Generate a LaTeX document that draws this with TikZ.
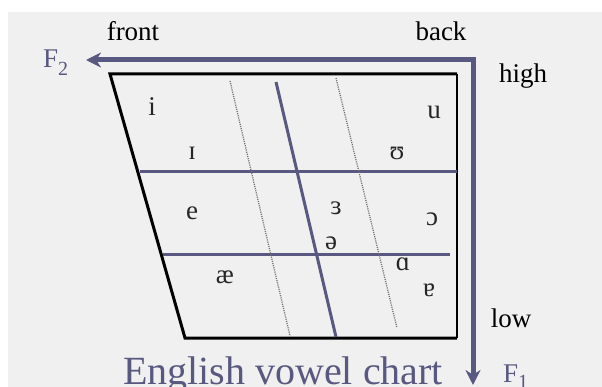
\documentclass[tikz,border=0pt]{standalone}
\usepackage{fontspec}
\setmainfont{Liberation Serif}
\usetikzlibrary{arrows.meta}
\definecolor{slate}{RGB}{88,88,128}
\definecolor{bg}{RGB}{240,240,240}
\tikzset{
  lbl/.style={font=\fontsize{27}{30}\selectfont, inner sep=0pt, text=black},
  vow/.style={font=\fontsize{27}{30}\selectfont, inner sep=0pt, text=black!85},
  frame/.style={draw=black, line width=3pt, line join=miter},
  grid/.style={draw=slate, line width=3pt},
  dots/.style={draw=black!55, line width=1.3pt, dash pattern=on 1.1pt off 1.1pt},
  axis/.style={draw=slate, line width=5pt, -{Stealth[length=15pt,width=15pt]}},
}
\begin{document}
\begin{tikzpicture}[x=1pt,y=-1pt]
\useasboundingbox (0,0) rectangle (602,387);
\fill[white] (0,0) rectangle (602,387);
\fill[bg] (8,12) rectangle (602,387);
% chart frame
\coordinate (tl) at (110,74);
\coordinate (tr) at (457,74);
\coordinate (br) at (457,338);
\coordinate (bl) at (185,338);
\draw[black, line width=1.2pt] (tr) -- (br);
\draw[frame] (br) -- (bl) -- (tl) -- (tr);
% grid lines
\coordinate (h1a) at (140,172); \coordinate (h1b) at (457,172);
\coordinate (h2a) at (163,255); \coordinate (h2b) at (450,255);
\draw[grid] (h1a) -- (h1b);
\draw[grid] (h2a) -- (h2b);
\coordinate (s1) at (276,82); \coordinate (s2) at (336,337);
\draw[grid] (s1) -- (s2);
\coordinate (d1a) at (230,81); \coordinate (d1b) at (290,336);
\coordinate (d2a) at (336,78); \coordinate (d2b) at (397,328);
\draw[dots] (d1a) -- (d1b);
\draw[dots] (d2a) -- (d2b);
% axes
\coordinate (corner) at (473,60);
\coordinate (f2tip) at (86,60);
\coordinate (f1tip) at (473,385);
\draw[axis] (corner) ++(2.5,0) -- (f2tip);
\draw[axis] (corner) ++(0,-2.5) -- (f1tip);
% labels
\node[lbl] (front) at (133,31) {front};
\node[lbl] (back) at (441,31) {back};
\node[lbl] (high) at (523,76) {high};
\node[lbl] (low) at (511,318) {low};
\node[lbl, text=slate, anchor=base west] (F2) at (43,68) {F\raisebox{-0.28em}{\fontsize{20}{20}\selectfont 2}};
\node[lbl, text=slate, anchor=base west] (F1) at (503,382) {F\raisebox{-0.25em}{\fontsize{20}{20}\selectfont 1}};
\node[font=\fontsize{40}{44}\selectfont, inner sep=0pt, text=slate, anchor=base] (title) at (283,384) {English vowel chart};
% vowels
\node[vow] (i) at (152,107) {i};
\node[vow] (I) at (192,153) {ɪ};
\node[vow] (u) at (434,112) {u};
\node[vow] (U) at (397,153) {ʊ};
\node[vow] (e) at (192,213) {e};
\node[vow] (er) at (336,208) {ɜ};
\node[vow] (o) at (432,219) {ɔ};
\node[vow] (schwa) at (331,243) {ə};
\node[vow] (ae) at (225,277) {æ};
\node[vow] (a) at (403,264) {ɑ};
\node[vow] (ta) at (429,290) {ɐ};
\end{tikzpicture}
\end{document}
